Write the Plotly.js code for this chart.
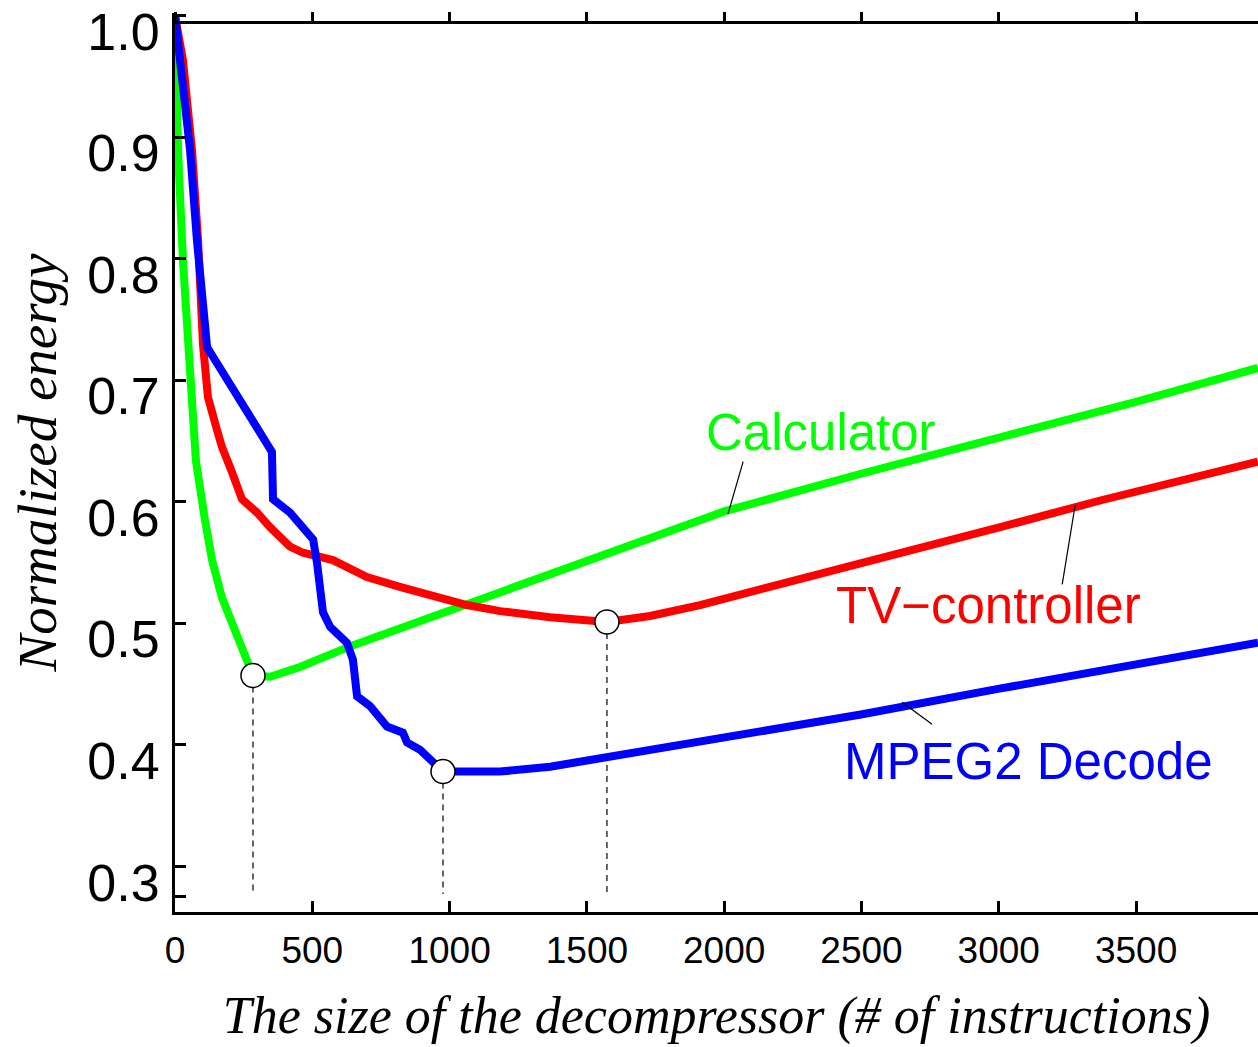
<!DOCTYPE html>
<html>
<head>
<meta charset="utf-8">
<script src="https://cdn.plot.ly/plotly-3.0.1.min.js"></script>
<style>html,body{margin:0;padding:0;background:#fff;}#chart{width:1258px;height:1047px;}</style>
</head>
<body>
<div id="chart"></div>
<script>
// ---- data ----
const calcX = [0, 11, 29, 51, 76, 109, 135, 171, 222, 284, 346, 455, 637, 819, 1063, 1184, 1548, 2000, 2498, 2997, 3496, 3944];
const calcY = [1.0, 0.889, 0.798, 0.716, 0.634, 0.585, 0.552, 0.521, 0.493, 0.457, 0.456, 0.464, 0.481, 0.496, 0.515, 0.526, 0.556, 0.592, 0.623, 0.652, 0.682, 0.710];

const tvX = [0, 29, 62, 84, 102, 120, 153, 171, 208, 244, 299, 346, 419, 466, 575, 699, 819, 940, 1063, 1184, 1366, 1573, 1730, 1912, 2276, 2640, 3005, 3369, 3944];
const tvY = [1.0, 0.963, 0.889, 0.815, 0.729, 0.686, 0.659, 0.645, 0.624, 0.602, 0.591, 0.579, 0.563, 0.558, 0.552, 0.538, 0.530, 0.522, 0.515, 0.510, 0.505, 0.501, 0.506, 0.515, 0.536, 0.558, 0.579, 0.601, 0.633];

const mpegX = [0, 18, 55, 80, 117, 353, 357, 419, 503, 517, 539, 565, 626, 648, 663, 710, 747, 772, 830, 845, 892, 940, 976, 1027, 1184, 1366, 1573, 1912, 2498, 2997, 3496, 3944];
const mpegY = [1.0, 0.963, 0.889, 0.815, 0.727, 0.641, 0.602, 0.591, 0.569, 0.550, 0.509, 0.497, 0.484, 0.470, 0.440, 0.432, 0.421, 0.415, 0.410, 0.402, 0.396, 0.386, 0.378, 0.378, 0.378, 0.382, 0.390, 0.402, 0.425, 0.446, 0.466, 0.484];

// optimum points (white circles) and their dashed drop lines
const optX = [284, 976, 1573];
const optY = [0.457, 0.378, 0.501];
const dropBottom = 0.2774;

// series labels
const labelText = ["Calculator", "TV\u2212controller", "MPEG2 Decode"];
const labelColor = ["#00ff00", "#ff0000", "#0000ff"];
const labelX = [2353, 2961, 3110];
const labelY = [0.657, 0.515, 0.386];
// leader lines
const leaderX0 = [2069, 3278, 2648];
const leaderY0 = [0.633, 0.597, 0.435];
const leaderX1 = [2014, 3231, 2757];
const leaderY1 = [0.590, 0.532, 0.417];

const xTicks = [0, 500, 1000, 1500, 2000, 2500, 3000, 3500];
const yTicks = [0.275, 0.3, 0.4, 0.5, 0.6, 0.7, 0.8, 0.9, 1.0];
const yTickText = ["", "0.3", "0.4", "0.5", "0.6", "0.7", "0.8", "0.9", "1.0"];

const xRange = [0, 3944];
const yRange = [0.2625, 1.002];
const frameTop = 0.9944;

// ---- traces ----
const traces = [
  {x: calcX, y: calcY, mode: 'lines', line: {color: '#00ff00', width: 8}, name: 'Calculator', showlegend: false, hoverinfo: 'skip'},
  {x: tvX, y: tvY, mode: 'lines', line: {color: '#ff0000', width: 8}, name: 'TV-controller', showlegend: false, hoverinfo: 'skip'},
  {x: mpegX, y: mpegY, mode: 'lines', line: {color: '#0000ff', width: 8}, name: 'MPEG2 Decode', showlegend: false, hoverinfo: 'skip'},
  {x: optX, y: optY, xaxis: 'x2', yaxis: 'y', mode: 'markers', marker: {size: 24, color: '#ffffff', line: {color: '#000000', width: 1.5}}, showlegend: false, hoverinfo: 'skip', cliponaxis: false}
];

const shapes = [];
optX.forEach((xv, i) => {
  shapes.push({type: 'line', xref: 'x', yref: 'y', x0: xv, x1: xv, y0: optY[i], y1: dropBottom,
    line: {color: '#333333', width: 1.5, dash: '6px,5px'}, layer: 'below'});
});
leaderX0.forEach((xv, i) => {
  shapes.push({type: 'line', xref: 'x', yref: 'y', x0: xv, y0: leaderY0[i], x1: leaderX1[i], y1: leaderY1[i],
    line: {color: '#000000', width: 1.2}, layer: 'above'});
});

const annotations = labelText.map((t, i) => ({
  x: labelX[i], y: labelY[i], xref: 'x', yref: 'y', text: t, showarrow: false,
  font: {family: 'Liberation Sans, Arial, sans-serif', size: 51, color: labelColor[i]},
  xanchor: 'center', yanchor: 'middle'
}));

const layout = {
  width: 1258, height: 1047,
  margin: {l: 175, r: 0, t: 13, b: 135, pad: 0},
  paper_bgcolor: '#ffffff', plot_bgcolor: '#ffffff',
  showlegend: false,
  xaxis: {
    range: xRange, tickvals: xTicks, ticktext: xTicks.map(String),
    ticks: 'inside', ticklen: 11, tickwidth: 3, tickcolor: '#000',
    showline: true, linewidth: 3, linecolor: '#000', showgrid: false, zeroline: false,
    tickfont: {family: 'Liberation Sans, Arial, sans-serif', size: 37, color: '#000'},
    ticklabelstandoff: 4,
    title: {text: 'The size of the decompressor (# of instructions)', standoff: 27,
      font: {family: 'Liberation Serif, Times New Roman, serif', size: 52, color: '#000', style: 'italic'}}
  },
  xaxis2: {
    overlaying: 'x', matches: 'x', range: xRange, side: 'top', anchor: 'free',
    position: (frameTop - yRange[0]) / (yRange[1] - yRange[0]),
    tickvals: xTicks, ticks: 'outside', ticklen: 9, tickwidth: 3, tickcolor: '#000',
    showline: true, linewidth: 3, linecolor: '#000', showgrid: false, zeroline: false,
    showticklabels: false
  },
  yaxis: {
    range: yRange, tickvals: yTicks, ticktext: yTickText,
    ticks: 'inside', ticklen: 11, tickwidth: 3, tickcolor: '#000',
    showline: true, linewidth: 3, linecolor: '#000', showgrid: false, zeroline: false,
    tickfont: {family: 'Liberation Sans, Arial, sans-serif', size: 52, color: '#000'},
    ticklabelshift: 16, ticklabelstandoff: 2,
    title: {text: 'Normalized energy', standoff: 14,
      font: {family: 'Liberation Serif, Times New Roman, serif', size: 55, color: '#000', style: 'italic'}}
  },
  shapes: shapes,
  annotations: annotations
};

Plotly.newPlot('chart', traces, layout, {staticPlot: true, displayModeBar: false});
</script>
</body>
</html>
